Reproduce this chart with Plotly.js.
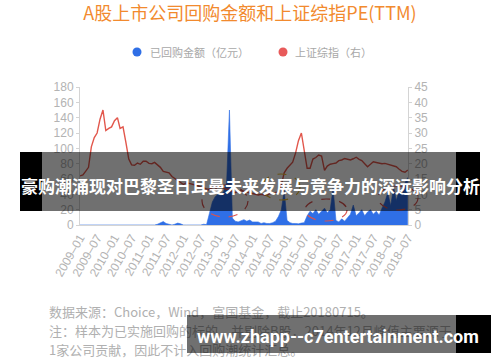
<!DOCTYPE html>
<html>
<head>
<meta charset="utf-8">
<script src="https://cdn.plot.ly/plotly-3.0.1.min.js"></script>
<style>html,body{margin:0;padding:0;background:#fff;}#chart{width:500px;height:362px;}</style>
</head>
<body>
<div id="chart"></div>
<script>
// ---- data (monthly, 2009-01 .. 2018-07) ----
const startYear = 2009;
const monthCount = 115;
const months = [];
for (let i = 0; i < monthCount; i++) {
  const y = startYear + Math.floor(i / 12);
  const m = (i % 12) + 1;
  months.push(y + '-' + (m < 10 ? '0' + m : m) + '-01');
}

// 已回购金额（亿元） – left axis
const buybackAmount = [
  0,0,0,0,0,0,0,0,0,0,0,0,           // 2009
  0,0,0,0,0,0,0,0,0,0,0,0,           // 2010
  0,0,0,1,2.5,4.5,2,0.5,0,1,2.5,1.5, // 2011
  0,0,0,0,0,0,0,1,0.5,15,30,37,      // 2012
  40,38,44,55,150,9,5,4,6,7,5,6.5,   // 2013
  4,3.5,4,2,3,2,2,3,5,11,20,45,      // 2014
  6,3,2,2,1.5,2.5,3,12,18,15,20,14,  // 2015
  18,22,16,20,48,6,4,8,5,10,14,26,   // 2016
  12,16,20,12,17,20,14,18,13,22,30,42, // 2017
  25,50,32,45,38,55,62               // 2018
];

// 上证综指PE(TTM) – right axis
const shPE = [
  16.0,16.3,17.5,18.8,25.5,28.5,30.0,34.5,37.5,30.8,31.5,32.0,  // 2009
  34.0,35.0,31.5,32.0,27.0,21.5,19.6,19.5,20.2,19.8,20.8,20.8,  // 2010
  20.1,20.0,20.4,19.6,18.8,17.5,17.2,17.0,15.8,15.2,14.5,14.0,  // 2011
  13.2,13.8,13.6,13.4,13.2,12.8,12.4,12.0,11.8,11.6,11.4,11.6,  // 2012
  12.6,12.4,12.0,11.6,11.8,10.8,10.6,11.0,11.2,11.0,10.8,10.6,  // 2013
  10.2,10.0,9.8,10.0,9.8,9.6,10.2,10.4,10.4,10.8,13.0,17.0,     // 2014
  18.5,19.5,20.5,23.5,27.5,30.0,24.0,18.5,18.5,21.5,22.0,22.8,  // 2015
  22.5,17.8,19.2,19.8,20.0,20.2,21.0,21.2,21.7,21.4,21.2,21.6,  // 2016
  22.1,21.4,21.0,20.0,19.0,19.8,20.6,20.4,20.2,20.0,20.1,19.8,  // 2017
  19.6,19.4,19.0,18.2,17.5,17.2,17.9                            // 2018
];

const xTickLabels = ['2009–01','2009–07','2010–01','2010–07','2011–01','2011–07',
  '2012–01','2012–07','2013–01','2013–07','2014–01','2014–07','2015–01','2015–07',
  '2016–01','2016–07','2017–01','2017–07','2018–01','2018–07'];
const xTickVals = xTickLabels.map(s => s.replace('–', '-') + '-01');

const seriesNames = ['已回购金额（亿元）', '上证综指（右）'];
const chartTitle = 'A股上市公司回购金额和上证综指PE(TTM)';
const notes = [
  '数据来源：Choice，Wind，富国基金，截止20180715。',
  '注：样本为已实施回购的标的，并剔除B股，2014年12月峰值主要源于',
  '1家公司贡献，因此不计入回购潮统计汇总。'
];
const bannerText = '豪购潮涌现对巴黎圣日耳曼未来发展与竞争力的深远影响分析';
const urlText = 'www.zhapp--c7entertainment.com';

// ---- geometry helpers (pixel -> paper) ----
const L = 80, R = 408, T = 87, B = 225;
const px = x => (x - L) / (R - L);
const py = y => (B - y) / (B - T);

const blue = '#2f6fe6', red = '#e2574c', gray = '#b3b3b3';
const cjk = '"Noto Sans CJK SC", "Liberation Sans", sans-serif';
const latin = '"Liberation Sans", "Noto Sans CJK SC", sans-serif';

const traces = [
  { x: months, y: buybackAmount, type: 'scatter', mode: 'lines', fill: 'tozeroy',
    line: { color: blue, width: 0.6 }, fillcolor: blue, name: seriesNames[0], yaxis: 'y' },
  { x: months, y: shPE, type: 'scatter', mode: 'lines',
    line: { color: red, width: 1.4 }, name: seriesNames[1], yaxis: 'y2' }
];

function ellipse(x0, y0, x1, y1, color) {
  return { type: 'circle', xref: 'paper', yref: 'paper', layer: 'above',
    x0: px(x0), x1: px(x1), y0: py(y1), y1: py(y0),
    line: { color: color, width: 1.2, dash: 'dash' }, fillcolor: 'rgba(0,0,0,0)' };
}
function rect(x0, y0, x1, y1, fill) {
  return { type: 'rect', xref: 'paper', yref: 'paper', layer: 'above',
    x0: px(x0), x1: px(x1), y0: py(y1), y1: py(y0), line: { width: 0 }, fillcolor: fill };
}
function dot(cx, cy, r, color) {
  return { type: 'circle', xref: 'paper', yref: 'paper', xsizemode: 'pixel', ysizemode: 'pixel',
    xanchor: px(cx), yanchor: py(cy), x0: -r, x1: r, y0: -r, y1: r,
    line: { width: 0 }, fillcolor: color, layer: 'above' };
}

const overlay = 'rgba(0,0,0,0.56)';
const shapes = [
  ellipse(202, 185, 248, 217, '#d9534f'),
  ellipse(262, 174, 300, 200, '#e8b830'),
  ellipse(305, 199, 347, 221, '#d9534f'),
  ellipse(378, 186, 418, 210, '#d9534f'),
  dot(137, 52, 4.5, blue),
  dot(283, 52, 4.5, '#e85a5a'),
  rect(42, 152, 456, 211, overlay),
  rect(20, 152, 42, 211, '#000'),
  rect(456, 152, 480, 211, '#000')
];

const annotations = [
  { text: seriesNames[0], xref: 'paper', yref: 'paper', x: px(148), y: py(52),
    xanchor: 'left', yanchor: 'middle', showarrow: false, font: { family: cjk, size: 11, color: '#a8a8a8' } },
  { text: seriesNames[1], xref: 'paper', yref: 'paper', x: px(293), y: py(52),
    xanchor: 'left', yanchor: 'middle', showarrow: false, font: { family: cjk, size: 11, color: '#a8a8a8' } },
  { text: bannerText, xref: 'paper', yref: 'paper', x: px(250), y: py(185),
    xanchor: 'center', yanchor: 'middle', showarrow: false,
    font: { family: cjk, size: 17, color: '#fff', weight: 'bold' } }
];
const noteY = [311, 330, 349];
notes.forEach((t, i) => annotations.push({
  text: t, xref: 'paper', yref: 'paper', x: px(47), y: py(noteY[i]),
  xanchor: 'left', yanchor: 'middle', showarrow: false,
  font: { family: cjk, size: 13, color: '#b0b0b0' } }));
// bottom banner drawn as annotations so it covers the notes
annotations.push({ text: ' ', xref: 'paper', yref: 'paper', x: px(187), y: py(315),
  xanchor: 'left', yanchor: 'top', width: 269, height: 38, bgcolor: overlay,
  borderpad: 0, borderwidth: 0, showarrow: false });
annotations.push({ text: ' ', xref: 'paper', yref: 'paper', x: px(456), y: py(315),
  xanchor: 'left', yanchor: 'top', width: 35, height: 38, bgcolor: '#000',
  borderpad: 0, borderwidth: 0, showarrow: false });
annotations.push({ text: urlText, xref: 'paper', yref: 'paper', x: px(338), y: py(336),
  xanchor: 'center', yanchor: 'middle', showarrow: false,
  font: { family: 'Roboto, "Open Sans", sans-serif', size: 18, color: '#fff', weight: 'bold' } });

const axisCommon = { showgrid: false, zeroline: false, showline: true, linecolor: '#d4d4d4',
  linewidth: 1, tickfont: { family: latin, size: 12, color: gray } };

const layout = {
  width: 500, height: 362,
  margin: { l: L, r: 500 - R, t: T, b: 362 - B, pad: 0 },
  paper_bgcolor: '#fff', plot_bgcolor: '#fff',
  showlegend: false,
  title: { text: chartTitle, x: 0.5, xanchor: 'center', y: 1 - 14 / 362, yanchor: 'middle',
    font: { family: cjk, size: 18, color: '#f28a2e' } },
  xaxis: Object.assign({}, axisCommon, { type: 'date', range: ['2009-01-01', '2018-07-03'],
    tickmode: 'array', tickvals: xTickVals, ticktext: xTickLabels, tickangle: -60, ticks: '' }),
  yaxis: Object.assign({}, axisCommon, { range: [0, 180], tick0: 0, dtick: 20,
    ticks: 'outside', ticklen: 3, tickcolor: '#d4d4d4' }),
  yaxis2: Object.assign({}, axisCommon, { overlaying: 'y', side: 'right', range: [0, 45],
    tick0: 0, dtick: 5, ticks: 'outside', ticklen: 3, tickcolor: '#d4d4d4' }),
  shapes: shapes,
  annotations: annotations
};

Plotly.newPlot('chart', traces, layout, { staticPlot: true, displayModeBar: false });
</script>
</body>
</html>
